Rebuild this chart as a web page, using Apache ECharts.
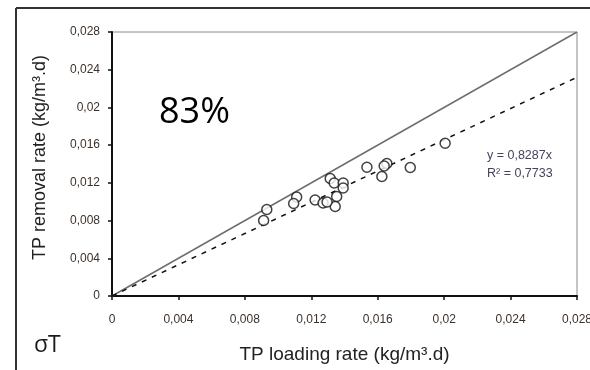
<!DOCTYPE html>
<html>
<head>
<meta charset="utf-8">
<script src="https://cdn.jsdelivr.net/npm/echarts@6/dist/echarts.min.js"></script>
<style>
html,body{margin:0;padding:0;background:#fff;}
#chart{width:590px;height:370px;}
</style>
</head>
<body>
<div id="chart"></div>
<script>
// Data
const loadingRate = [0.00932, 0.00913, 0.01112, 0.01094, 0.01223, 0.01271, 0.01314, 0.01338, 0.01392, 0.01392, 0.01353, 0.01344, 0.01295, 0.01535, 0.01655, 0.01625, 0.01796, 0.02006, 0.01639];
const removalRate = [0.00917, 0.00801, 0.0105, 0.00981, 0.01018, 0.00986, 0.01246, 0.01198, 0.01198, 0.01145, 0.01055, 0.00949, 0.00997, 0.01365, 0.01405, 0.01267, 0.01363, 0.0162, 0.01379];
const oneToOneX = [0, 0.028];
const oneToOneY = [0, 0.028];
const fitX = [0, 0.028];
const fitY = [0, 0.0232];
const tickLabels = ['0', '0,004', '0,008', '0,012', '0,016', '0,02', '0,024', '0,028'];
const tickStep = 0.004;

const labelFmt = v => tickLabels[Math.round(v / tickStep)] || '';
const labelColor = '#3e3128';

const chart = echarts.init(document.getElementById('chart'), null, {renderer: 'canvas'});
chart.setOption({
  animation: false,
  backgroundColor: '#fff',
  grid: {left: 112, top: 32, right: 13, bottom: 74, containLabel: false, outerBoundsMode: 'none',
         show: true, borderColor: '#8a8a8a', borderWidth: 1},
  xAxis: {
    type: 'value', min: 0, max: 0.028, interval: tickStep,
    name: 'TP loading rate (kg/m³.d)', nameLocation: 'middle', nameGap: 49,
    nameTextStyle: {fontFamily: 'Liberation Sans', fontSize: 19, color: '#222'},
    axisLine: {show: true, onZero: false, lineStyle: {color: '#111', width: 2}},
    axisTick: {show: true, length: 4, lineStyle: {color: '#111', width: 1.5}},
    axisLabel: {formatter: labelFmt, fontFamily: 'Liberation Sans', fontSize: 12, color: labelColor, margin: 18},
    splitLine: {show: false}
  },
  yAxis: {
    type: 'value', min: 0, max: 0.028, interval: tickStep,
    name: 'TP removal rate (kg/m³.d)', nameLocation: 'middle', nameGap: 63,
    nameTextStyle: {fontFamily: 'Liberation Sans', fontSize: 18, color: '#222', padding: [0, 0, 0, 13]},
    axisLine: {show: true, onZero: false, lineStyle: {color: '#111', width: 2}},
    axisTick: {show: true, length: 4, lineStyle: {color: '#111', width: 1.5}},
    axisLabel: {formatter: labelFmt, fontFamily: 'Liberation Sans', fontSize: 12, color: labelColor, margin: 12},
    splitLine: {show: false}
  },
  graphic: [
    {type: 'line', shape: {x1: 16, y1: 8, x2: 590, y2: 8}, style: {stroke: '#333', lineWidth: 2}, silent: true},
    {type: 'line', shape: {x1: 16, y1: 8, x2: 16, y2: 370}, style: {stroke: '#333', lineWidth: 2}, silent: true},
    {type: 'text', left: 159, top: 95, style: {text: '83%', font: '36px "Open Sans"', fill: '#000'}, silent: true},
    {type: 'text', left: 34, top: 334, style: {text: 'σT', font: '23px "Open Sans"', fill: '#1a1a1a'}, silent: true},
    {type: 'text', left: 487, top: 149, style: {text: 'y = 0,8287x', font: '12.5px "Liberation Sans"', fill: '#4a4060'}, silent: true},
    {type: 'text', left: 487, top: 167, style: {text: 'R² = 0,7733', font: '12.5px "Liberation Sans"', fill: '#4a4060'}, silent: true}
  ],
  series: [
    {
      type: 'line', data: oneToOneX.map((x, i) => [x, oneToOneY[i]]),
      symbol: 'none', lineStyle: {color: '#6e6e6e', width: 1.5}, silent: true, z: 2
    },
    {
      type: 'line', data: fitX.map((x, i) => [x, fitY[i]]),
      symbol: 'none', lineStyle: {color: '#111', width: 1.5, type: [5, 6]}, silent: true, z: 2
    },
    {
      type: 'scatter', data: loadingRate.map((x, i) => [x, removalRate[i]]),
      symbol: 'circle', symbolSize: 10,
      itemStyle: {color: '#fff', borderColor: '#111', borderWidth: 1.5}, z: 3
    }
  ]
});
</script>
</body>
</html>
